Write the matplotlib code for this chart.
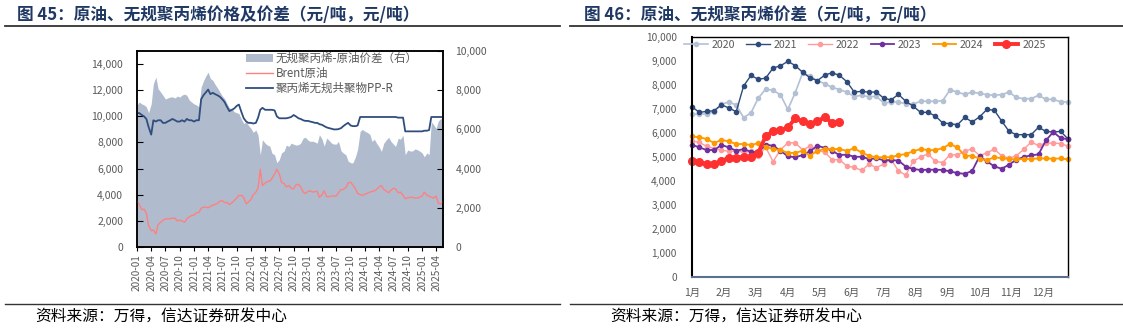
import numpy as np
import pandas as pd
import matplotlib
matplotlib.use("Agg")
import matplotlib.pyplot as plt
from matplotlib.lines import Line2D
from matplotlib.patches import Patch
from matplotlib.ticker import FuncFormatter

plt.rcParams["font.family"] = ["Noto Sans CJK SC", "DejaVu Sans"]
plt.rcParams["axes.unicode_minus"] = False

# ---------------------------------------------------------------------------
# 图45 -- semi-monthly readings (1st / 15th), 2020-01 .. 2025-05, 元/吨
# ---------------------------------------------------------------------------
SPREAD = [
    7230, 7400, 7300, 7250, 7150, 6850, 7300, 8330, 8670, 8080, 7900, 7740,
    7550, 7600, 7650, 7660, 7600, 7700, 7650, 7750, 7800, 7740, 7500, 7400,  # 2020
    7300, 7250, 7150, 8160, 8450, 8700, 8920, 8600, 8500, 8300, 8100, 7910,
    7700, 7575, 7300, 7100, 7050, 6900, 6850, 6810, 6500, 6300, 6390, 6200,  # 2021
    6050, 5850, 5970, 5700, 4700, 5470, 5300, 5200, 5150, 4790, 4700, 4300,
    4460, 4800, 4900, 5200, 5130, 5300, 5240, 5200, 5220, 5300, 5560, 5600,  # 2022
    5450, 5390, 5400, 5350, 5300, 5730, 5500, 5150, 5560, 5450, 5300, 5250,
    5250, 5390, 4900, 4800, 4700, 4380, 4300, 4290, 4600, 5000, 5900, 6000,  # 2023
    5900, 5850, 5750, 5390, 5500, 5300, 5100, 4880, 5300, 5450, 5600, 5390,
    5250, 5130, 5550, 5500, 5700, 4710, 4950, 4900, 4900, 5000, 4970, 4900,  # 2024
    4800, 4600, 4800, 4710, 6390, 6250, 6050, 6430, 6550, 6520,              # 2025
]
BRENT = [
    3500, 3280, 2850, 2900, 2600, 1650, 1250, 1300, 1000, 1700, 1900, 2050,
    2150, 2150, 2180, 2200, 2200, 2000, 2050, 2000, 1900, 2150, 2300, 2400,
    2450, 2600, 2650, 2950, 3050, 3050, 3000, 3100, 3200, 3250, 3350, 3500,
    3550, 3400, 3400, 3250, 3400, 3550, 3750, 3950, 3950, 3800, 3300, 3450,
    3650, 4000, 4200, 4500, 5950, 4700, 4900, 5000, 5050, 5250, 5600, 5950,
    5600, 4950, 4850, 4600, 4700, 4500, 4450, 4750, 4800, 4600, 4200, 4100,
    4250, 4300, 4200, 4250, 4250, 3800, 4000, 4300, 3850, 3850, 3900, 3900,
    3900, 4150, 4400, 4400, 4550, 4900, 4950, 4750, 4450, 4100, 4000, 3950,
    4050, 4100, 4200, 4250, 4300, 4400, 4600, 4700, 4400, 4300, 4150, 4350,
    4500, 4450, 4150, 4200, 3950, 3700, 3750, 3800, 3800, 3750, 3750, 3800,
    3900, 4200, 3950, 3900, 3800, 3750, 3900, 3350, 3300, 3450,
]
PPR = [
    10250, 10250, 10100, 10000, 9800, 9200, 8600, 9700, 9600, 9700, 9700, 9500,
    9500, 9600, 9700, 9800, 9700, 9600, 9600, 9700, 9600, 9800, 9700, 9700,
    9600, 9700, 9700, 11300, 11600, 11800, 12050, 11700, 11800, 11700, 11600, 11500,
    11300, 11100, 10700, 10400, 10500, 10600, 10800, 10900, 10300, 9850, 9600, 9500,
    9500, 9450, 9500, 9900, 10500, 10650, 10500, 10500, 10500, 10500, 10450, 10000,
    9850, 9850, 9850, 9850, 9900, 9950, 10100, 10000, 9850, 9800, 9700, 9650,
    9650, 9600, 9550, 9500, 9500, 9400, 9350, 9250, 9150, 9100, 9050, 9000,
    9000, 9020, 9100, 9250, 9400, 9500, 9300, 9250, 9250, 9300, 9950, 9950,
    9950, 9950, 9950, 9950, 9950, 9950, 9950, 9950, 9950, 9950, 9950, 9950,
    9950, 9950, 9900, 9900, 9900, 8850, 8850, 8850, 8850, 8850, 8850, 8850,
    8850, 8900, 8900, 8950, 9950, 9950, 9950, 9950, 9950, 9950,
]
DATES = pd.date_range("2020-01-01", periods=len(BRENT), freq="SMS")

# ---------------------------------------------------------------------------
# 图46 -- weekly spread by year, 元/吨
# ---------------------------------------------------------------------------
MONTH_LABELS = [f"{m}月" for m in range(1, 13)]
YEARS = ["2020", "2021", "2022", "2023", "2024", "2025"]
Y2020 = [6780, 6790, 6790, 6890, 7190, 7300, 7160, 6640, 6840, 7460, 7830, 7780,
         7590, 6980, 7680, 8500, 8370, 8180, 8055, 7900, 7810, 7700, 7520, 7570,
         7510, 7530, 7250, 7290, 7290, 7220, 7190, 7330, 7320, 7320, 7345, 7800,
         7700, 7610, 7700, 7650, 7600, 7570, 7600, 7700, 7480, 7430, 7430, 7570,
         7400, 7400, 7300, 7290]
Y2021 = [7090, 6860, 6900, 6930, 7180, 7040, 6890, 7957, 8400, 8235, 8290, 8707,
         8800, 8985, 8810, 8530, 8304, 8180, 8410, 8513, 8400, 8140, 7710, 7734,
         7700, 7710, 7450, 7380, 7610, 7320, 7120, 6860, 6860, 6710, 6420, 6390,
         6340, 6650, 6460, 6670, 6980, 6950, 6500, 6070, 5930, 5930, 5930, 6236,
         6070, 6040, 6070, 5750]
Y2022 = [5670, 5610, 5440, 5350, 5290, 5230, 5260, 5190, 5240, 5060, 5400, 4810,
         5300, 5590, 5590, 5300, 5440, 5270, 5200, 4890, 4890, 4620, 4570, 4440,
         4700, 4560, 4700, 4900, 4420, 4240, 4820, 5000, 5130, 4820, 4770, 5090,
         5090, 5240, 5340, 5060, 5170, 5330, 5050, 4950, 5050, 5320, 5620, 5480,
         5580, 5580, 5560, 5450]
Y2023 = [5510, 5400, 5290, 5290, 5500, 5400, 5260, 5330, 5220, 5190, 5510, 5470,
         5260, 5030, 4990, 5080, 5240, 5470, 5380, 5260, 5080, 5100, 5010, 5010,
         4920, 4940, 4870, 4870, 4850, 4600, 4500, 4460, 4470, 4470, 4460, 4400,
         4330, 4300, 4420, 5030, 4820, 4610, 4510, 4680, 4890, 5000, 5070, 5110,
         5690, 6040, 5790, 5740]
Y2024 = [5860, 5820, 5750, 5580, 5710, 5650, 5540, 5540, 5500, 5580, 5430, 5330,
         5290, 5170, 5170, 5260, 5050, 5260, 5330, 5330, 5330, 5260, 5360, 5190,
         5050, 4990, 4990, 4990, 5080, 5120, 5240, 5330, 5290, 5290, 5370, 5540,
         5400, 5050, 5050, 4930, 4870, 4990, 4950, 4920, 4900, 4920, 4920, 4940,
         4940, 4930, 4940, 4900]
Y2025 = [4830, 4800, 4690, 4700, 4840, 4960, 4970, 5010, 5010, 5180, 5870, 6070,
         6110, 6230, 6610, 6490, 6380, 6490, 6660, 6420, 6470]

W = 1123
H = 328
GRAY = "#595959"
NAVY = "#1f3864"


def fx(px):
    return px / W


def fy(py):
    return 1 - py / H


def thousands(v, _pos):
    return f"{v:,.0f}"


fig = plt.figure(figsize=(W / 100, H / 100), dpi=100, facecolor="white")

# ---- headers / footers ----------------------------------------------------
fig.text(fx(17), fy(15), "图 45：原油、无规聚丙烯价格及价差（元/吨，元/吨）",
         fontsize=12, fontweight="bold", color=NAVY, va="center")
fig.text(fx(584), fy(15), "图 46：原油、无规聚丙烯价差（元/吨，元/吨）",
         fontsize=12, fontweight="bold", color=NAVY, va="center")
for x0, x1 in [(5, 560), (570, 1123)]:
    fig.add_artist(Line2D([fx(x0), fx(x1)], [fy(26), fy(26)], color="#333333",
                          lw=1.3, transform=fig.transFigure))
    fig.add_artist(Line2D([fx(x0), fx(x1)], [fy(304), fy(304)], color="#333333",
                          lw=1.0, transform=fig.transFigure))
fig.text(fx(35), fy(316), "资料来源：万得，信达证券研发中心", fontsize=11.3,
         color="black", va="center", style="italic", fontweight="light")
fig.text(fx(610), fy(316), "资料来源：万得，信达证券研发中心", fontsize=11.3,
         color="black", va="center", style="italic", fontweight="light")

# ---- 图45 -----------------------------------------------------------------
ax1 = fig.add_axes([fx(137), fy(247), fx(306), 196 / H])
ax2 = ax1.twinx()
ax1.set_zorder(ax2.get_zorder() + 1)
ax1.patch.set_visible(False)

SHADE = "#b0bccd"
BRENT_C = "#ff8080"
PPR_C = "#2f4e7e"

ax2.fill_between(DATES, 0, SPREAD, color=SHADE, lw=0)
ax1.plot(DATES, BRENT, color=BRENT_C, lw=1.0)
ax1.plot(DATES, PPR, color=PPR_C, lw=1.3)

ax1.set_xlim(DATES[0], DATES[-1])
ax1.set_ylim(0, 15000)
ax2.set_ylim(0, 10000)
ax1.set_yticks(np.arange(0, 14001, 2000))
ax2.set_yticks(np.arange(0, 10001, 2000))
ax1.yaxis.set_major_formatter(FuncFormatter(thousands))
ax2.yaxis.set_major_formatter(FuncFormatter(thousands))

xt = pd.date_range("2020-01-01", "2025-04-01", freq="3MS")
ax1.set_xticks(xt)
ax1.set_xticklabels([d.strftime("%Y-%m") for d in xt], rotation=90)

ax1.tick_params(axis="y", direction="in", length=4, labelsize=7.5,
                labelcolor=GRAY, pad=10, color="black")
ax2.tick_params(axis="y", direction="in", length=4, labelsize=7.5,
                labelcolor=GRAY, pad=9, color="black")
ax1.tick_params(axis="x", direction="out", length=3, labelsize=7.2,
                labelcolor=GRAY, pad=2, color="black")
for ax in (ax1, ax2):
    for sp in ax.spines.values():
        sp.set_color("black")
        sp.set_linewidth(1.1)

handles = [Patch(facecolor=SHADE, edgecolor="none"),
           Line2D([], [], color=BRENT_C, lw=1.0),
           Line2D([], [], color=PPR_C, lw=1.3)]
labels = ["无规聚丙烯-原油价差（右）", "Brent原油", "聚丙烯无规共聚物PP-R"]
leg = ax1.legend(handles, labels, loc="upper left", bbox_to_anchor=(0.33, 1.035),
                 frameon=False, fontsize=8.3, handlelength=2.3, handleheight=0.6,
                 handletextpad=0.3, labelspacing=0.15, borderpad=0.2)
for t in leg.get_texts():
    t.set_color(GRAY)

# ---- 图46 -----------------------------------------------------------------
ax3 = fig.add_axes([fx(692), fy(277), fx(376), 240 / H])
series = [Y2020, Y2021, Y2022, Y2023, Y2024, Y2025]
styles = [
    ("#b4c0d3", 1.2, 3.0),
    ("#2f4b7c", 1.0, 3.0),
    ("#ff9b9b", 1.0, 3.0),
    ("#7030a0", 1.3, 3.0),
    ("#ff9900", 1.3, 3.0),
    ("#ff3030", 2.8, 5.5),
]
for year, vals, (col, lw, ms) in zip(YEARS, series, styles):
    ax3.plot(np.arange(len(vals)), vals, color=col, lw=lw, marker="o",
             ms=ms, mec=col, mfc=col, label=year, clip_on=False)

ax3.set_xlim(0, 51)
ax3.set_ylim(0, 10000)
ax3.set_yticks(np.arange(0, 10001, 1000))
ax3.yaxis.set_major_formatter(FuncFormatter(thousands))
ax3.set_xticks(np.arange(12) * 52 / 12)
ax3.set_xticklabels(MONTH_LABELS)
ax3.tick_params(axis="y", length=0, labelsize=7.3, labelcolor=GRAY, pad=11)
ax3.tick_params(axis="x", length=0, labelsize=7.5, labelcolor=GRAY, pad=8)
for name, sp in ax3.spines.items():
    sp.set_color("black")
    sp.set_linewidth(1.0)
ax3.spines["left"].set_linewidth(1.5)
ax3.spines["bottom"].set_color("#5b6f8f")
ax3.spines["bottom"].set_linewidth(1.5)

leg2 = ax3.legend(loc="center", bbox_to_anchor=(0.46, 0.967), ncol=6,
                  frameon=False, fontsize=7.6, handlelength=2.2,
                  handletextpad=0.4, columnspacing=1.05, borderpad=0.1)
for t in leg2.get_texts():
    t.set_color(GRAY)

fig.savefig("out.png", dpi=100, facecolor="white")
